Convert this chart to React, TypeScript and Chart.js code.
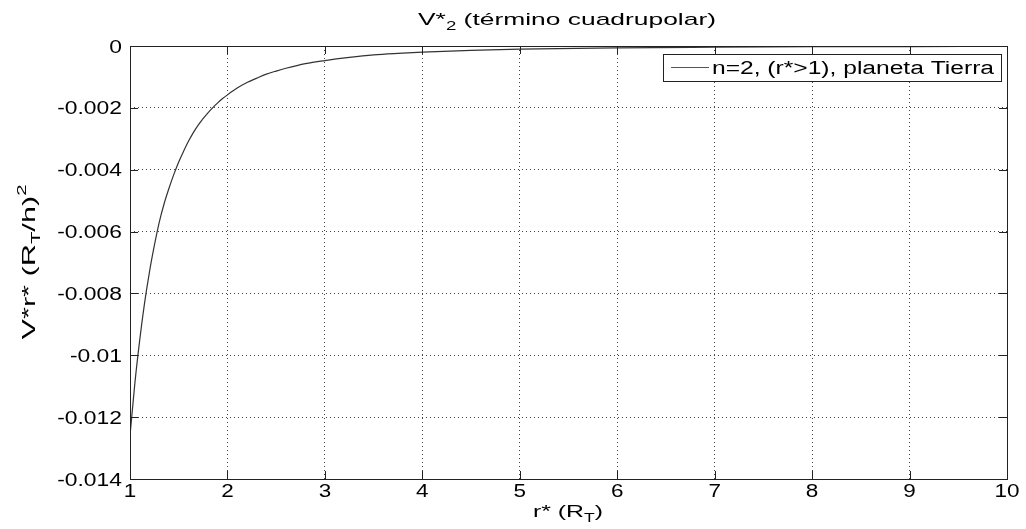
import React, { useEffect, useRef } from "react";
import { Chart, registerables } from "chart.js";

Chart.register(...registerables);

const rValues = [1.0, 1.05, 1.1, 1.15, 1.2, 1.25, 1.3, 1.35, 1.4, 1.45, 1.5, 1.55, 1.6, 1.65, 1.7, 1.75, 1.8, 1.85, 1.9, 1.95, 2.0, 2.1, 2.2, 2.3, 2.4, 2.5, 2.6, 2.8, 3.0, 3.25, 3.5, 3.75, 4.0, 4.5, 5.0, 6.0, 7.0, 8.0, 9.0, 10.0];
const vValues = [-0.0126, -0.0109, -0.0095, -0.0083, -0.0073, -0.00645, -0.0057, -0.0051, -0.0046, -0.00415, -0.00375, -0.0034, -0.00308, -0.0028, -0.00256, -0.00235, -0.00216, -0.00199, -0.00184, -0.0017, -0.00158, -0.00136, -0.00118, -0.00104, -0.00091, -0.00081, -0.00072, -0.00057, -0.00047, -0.00037, -0.00029, -0.00024, -0.0002, -0.00014, -0.0001, -0.00006, -0.00004, -0.000025, -0.000017, -0.000013];
const xTicks = [1, 2, 3, 4, 5, 6, 7, 8, 9, 10];
const xTickLabels = ["1", "2", "3", "4", "5", "6", "7", "8", "9", "10"];
const yTicks = [0, -0.002, -0.004, -0.006, -0.008, -0.01, -0.012, -0.014];
const yTickLabels = ["0", "-0.002", "-0.004", "-0.006", "-0.008", "-0.01", "-0.012", "-0.014"];
const seriesLabel = "n=2, (r*>1), planeta Tierra";

const FONT = "'Liberation Sans', Arial, Helvetica, sans-serif";

type Part = { text: string; size: number; dy: number };

function drawParts(
  ctx: CanvasRenderingContext2D,
  parts: Part[],
  x: number,
  y: number,
  align: "left" | "center" | "right",
  opts: { target?: number; scale?: number }
) {
  ctx.save();
  ctx.textAlign = "left";
  ctx.textBaseline = "alphabetic";
  let w = 0;
  parts.forEach((p) => {
    ctx.font = `${p.size}px ${FONT}`;
    w += ctx.measureText(p.text).width;
  });
  const s = opts.target ? opts.target / w : opts.scale || 1;
  ctx.translate(x, y);
  ctx.scale(s, 1);
  let cx = align === "left" ? 0 : align === "center" ? -w / 2 : -w;
  parts.forEach((p) => {
    ctx.font = `${p.size}px ${FONT}`;
    ctx.fillText(p.text, cx, p.dy);
    cx += ctx.measureText(p.text).width;
  });
  ctx.restore();
}

const framePlugin = {
  id: "matlabFrame",
  afterDraw(chart: any) {
    const { ctx, chartArea } = chart;
    const { left, right, top, bottom } = chartArea;
    const xs = chart.scales.x;
    const ys = chart.scales.y;
    ctx.save();
    // frame
    ctx.strokeStyle = "#222";
    ctx.lineWidth = 1;
    ctx.setLineDash([]);
    ctx.strokeRect(left + 0.5, top + 0.5, right - left, bottom - top);
    // inward ticks
    ctx.beginPath();
    xTicks.forEach((v) => {
      const px = Math.round(xs.getPixelForValue(v)) + 0.5;
      ctx.moveTo(px, bottom);
      ctx.lineTo(px, bottom - 8);
      ctx.moveTo(px, top);
      ctx.lineTo(px, top + 8);
    });
    yTicks.forEach((v) => {
      const py = Math.round(ys.getPixelForValue(v)) + 0.5;
      ctx.moveTo(left, py);
      ctx.lineTo(left + 8, py);
      ctx.moveTo(right, py);
      ctx.lineTo(right - 8, py);
    });
    ctx.stroke();

    ctx.fillStyle = "#000";
    // tick labels
    xTicks.forEach((v, i) => {
      const px = xs.getPixelForValue(v);
      drawParts(ctx, [{ text: xTickLabels[i], size: 18, dy: 0 }], px, 497, "center", { scale: 1.25 });
    });
    yTicks.forEach((v, i) => {
      const py = ys.getPixelForValue(v);
      drawParts(ctx, [{ text: yTickLabels[i], size: 18, dy: 0 }], 122, py + 6.5, "right", { scale: 1.27 });
    });

    // legend box
    const bx = 663, by = 54, bw = 338, bh = 27;
    ctx.fillStyle = "#fff";
    ctx.fillRect(bx, by, bw, bh);
    ctx.strokeStyle = "#222";
    ctx.strokeRect(bx + 0.5, by + 0.5, bw, bh);
    ctx.strokeStyle = "#555";
    ctx.beginPath();
    ctx.moveTo(671, by + 13.5);
    ctx.lineTo(709, by + 13.5);
    ctx.stroke();
    ctx.fillStyle = "#000";
    drawParts(ctx, [{ text: seriesLabel, size: 18, dy: 0 }], 712, by + 20, "left", { target: 282 });

    // title
    drawParts(
      ctx,
      [
        { text: "V*", size: 17, dy: 0 },
        { text: "2", size: 12, dy: 5 },
        { text: " (término cuadrupolar)", size: 17, dy: 0 },
      ],
      567,
      25,
      "center",
      { target: 298 }
    );

    // x label
    drawParts(
      ctx,
      [
        { text: "r* (R", size: 17, dy: 0 },
        { text: "T", size: 12, dy: 5 },
        { text: ")", size: 17, dy: 0 },
      ],
      568,
      517,
      "center",
      { target: 70 }
    );

    // y label rotated
    ctx.save();
    ctx.translate(35, 262);
    ctx.rotate(-Math.PI / 2);
    drawParts(
      ctx,
      [
        { text: "V*r* (R", size: 18, dy: 0 },
        { text: "T", size: 12, dy: 5 },
        { text: "/h)", size: 18, dy: 0 },
        { text: "2", size: 12, dy: -9 },
      ],
      0,
      0,
      "center",
      { target: 155 }
    );
    ctx.restore();
    ctx.restore();
  },
};

export default function App() {
  const ref = useRef<HTMLCanvasElement | null>(null);
  useEffect(() => {
    if (!ref.current) return;
    const chart = new Chart(ref.current, {
      type: "line",
      data: {
        datasets: [
          {
            label: seriesLabel,
            data: rValues.map((r, i) => ({ x: r, y: vValues[i] })),
            borderColor: "#333",
            borderWidth: 1.2,
            pointRadius: 0,
            fill: false,
            cubicInterpolationMode: "monotone",
          },
        ],
      },
      options: {
        animation: false,
        responsive: false,
        maintainAspectRatio: false,
        layout: { padding: { left: 0, top: 46, right: 19, bottom: 0 } },
        plugins: {
          legend: { display: false },
          title: { display: false },
          tooltip: { enabled: false },
        },
        scales: {
          x: {
            type: "linear",
            min: 1,
            max: 10,
            afterFit: (s: any) => {
              s.height = 50;
            },
            afterBuildTicks: (s: any) => {
              s.ticks = xTicks.map((v) => ({ value: v }));
            },
            ticks: { display: false, autoSkip: false },
            grid: { color: "#444", drawTicks: false, lineWidth: 1 },
            border: { display: false, dash: [1, 3] },
          },
          y: {
            type: "linear",
            min: -0.014,
            max: 0,
            afterFit: (s: any) => {
              s.width = 130;
            },
            afterBuildTicks: (s: any) => {
              s.ticks = yTicks.map((v) => ({ value: v }));
            },
            ticks: { display: false, autoSkip: false },
            grid: { color: "#444", drawTicks: false, lineWidth: 1 },
            border: { display: false, dash: [1, 3] },
          },
        },
      },
      plugins: [framePlugin],
    });
    return () => chart.destroy();
  }, []);
  return (
    <div style={{ position: "absolute", left: 0, top: 0, width: 1026, height: 529, background: "#fff" }}>
      <canvas ref={ref} width={1026} height={529} style={{ display: "block" }} />
    </div>
  );
}
